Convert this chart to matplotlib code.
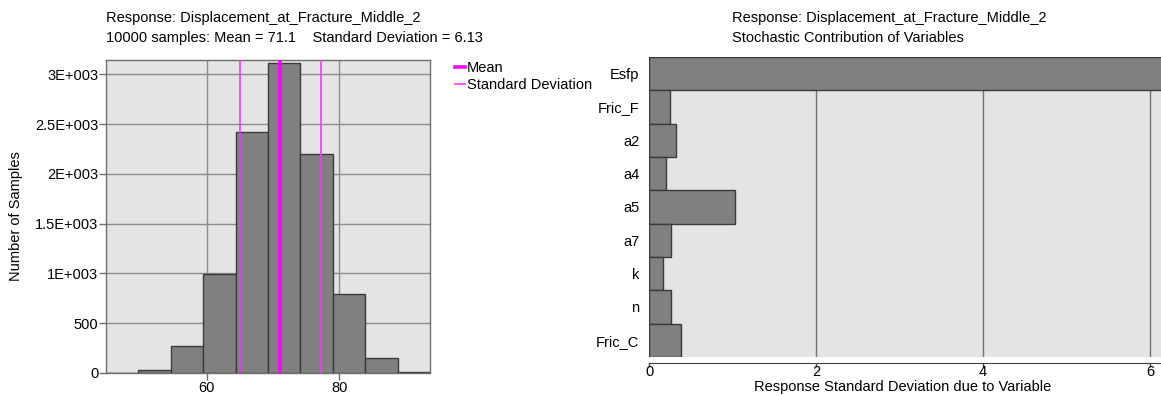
import matplotlib
matplotlib.use("Agg")
import matplotlib.pyplot as plt
from matplotlib.lines import Line2D

FS = 10.5
plt.rcParams['font.family'] = ['Liberation Sans', 'DejaVu Sans']
plt.rcParams['font.size'] = FS

# ---------------- data ----------------
bin_edges = [44.74, 49.64, 54.54, 59.44, 64.34, 69.24, 74.14, 79.04, 83.94, 88.84, 93.74]
bin_counts = [5, 35, 270, 995, 2425, 3115, 2200, 790, 155, 10]
mean_value = 71.1
std_value = 6.13
n_samples = 10000
response_name = "Displacement_at_Fracture_Middle_2"

hist_yticks = [0, 500, 1000, 1500, 2000, 2500, 3000]
hist_yticklabels = ["0", "500", "1E+003", "1.5E+003", "2E+003", "2.5E+003", "3E+003"]
hist_xticks = [60, 80]

variables = ["Esfp", "Fric_F", "a2", "a4", "a5", "a7", "k", "n", "Fric_C"]
contributions = [6.5, 0.25, 0.32, 0.20, 1.03, 0.26, 0.17, 0.26, 0.38]
contrib_xticks = [0, 2, 4, 6]

# ---------------- figure ----------------
W, H = 1161, 396
fig = plt.figure(figsize=(W / 100, H / 100), dpi=100)

def rect(x0, y0, x1, y1):
    return [x0 / W, 1 - y1 / H, (x1 - x0) / W, (y1 - y0) / H]

bg = '#e4e4e4'
bar_face = '#808080'
bar_edge = '#3a3a3a'
magenta = '#ff00ff'

# ---- left: histogram ----
ax1 = fig.add_axes(rect(106, 60, 430, 373))
ax1.set_facecolor(bg)
widths = [bin_edges[i + 1] - bin_edges[i] for i in range(len(bin_counts))]
ax1.bar(bin_edges[:-1], bin_counts, width=widths, align='edge',
        color=bar_face, edgecolor=bar_edge, linewidth=1.0, zorder=2)
ax1.set_xlim(bin_edges[0], bin_edges[-1])
ax1.set_ylim(0, 3145)
ax1.set_yticks(hist_yticks)
ax1.set_yticklabels(hist_yticklabels)
ax1.set_xticks(hist_xticks)
ax1.grid(True, color='#8c8c8c', linewidth=1.0, zorder=0)
ax1.set_axisbelow(True)
ax1.tick_params(direction='out', length=5, width=1, color='#6e6e6e', pad=0.5,
                labelsize=FS)
for s in ax1.spines.values():
    s.set_color('#6e6e6e')
    s.set_linewidth(1.0)
ax1.set_ylabel("Number of Samples", fontsize=FS)
ax1.yaxis.set_label_coords(-(106 - 16) / (430 - 106), 0.5)
ax1.yaxis.label.set_va('center')

ax1.axvline(mean_value, color=magenta, linewidth=2.6, zorder=3)
for v in (mean_value - std_value, mean_value + std_value):
    ax1.axvline(v, color='#ff33ff', linewidth=1.2, zorder=3)

handles = [Line2D([], [], color=magenta, linewidth=2.6),
           Line2D([], [], color='#ff33ff', linewidth=1.2)]
fig.legend(handles, ["Mean", "Standard Deviation"],
           loc='upper left', bbox_to_anchor=(455 / W, 1 - 61 / H),
           frameon=False, handlelength=0.7, handletextpad=0.1,
           labelspacing=0.2, borderaxespad=0, borderpad=0, fontsize=FS)

fig.text(106 / W, 1 - 18 / H, "Response: " + response_name,
         ha='left', va='center', fontsize=FS)
fig.text(106 / W, 1 - 38 / H,
         f"{n_samples} samples: Mean = {mean_value}    Standard Deviation = {std_value}",
         ha='left', va='center', fontsize=FS)

# ---- right: contributions ----
ax2 = fig.add_axes(rect(649, 57, 1161, 357))
ax2.set_facecolor(bg)
ypos = list(range(len(variables)))[::-1]
ax2.barh(ypos, contributions, height=1.0, color=bar_face,
         edgecolor=bar_edge, linewidth=1.0, zorder=2)
ax2.set_xlim(0, 6.13)
ax2.set_ylim(-0.5, len(variables) - 0.5)
ax2.set_yticks(ypos)
ax2.set_yticklabels(variables)
ax2.set_xticks(contrib_xticks)
ax2.grid(True, axis='x', color='#707070', linewidth=1.0, zorder=0)
ax2.set_axisbelow(True)
ax2.tick_params(axis='y', length=0, pad=7, labelsize=FS)
ax2.tick_params(axis='x', direction='out', length=3, width=1,
                color='#404040', pad=-1, labelsize=FS)
for k in ('top', 'right', 'left'):
    ax2.spines[k].set_visible(False)
ax2.spines['bottom'].set_position(('outward', 4))
ax2.spines['bottom'].set_color('#404040')
ax2.set_xlabel("Response Standard Deviation due to Variable", fontsize=FS)
ax2.xaxis.label.set_va('center')
ax2.xaxis.set_label_coords((903 - 649) / (1161 - 649), -(387 - 357) / 300)

fig.text(732 / W, 1 - 18 / H, "Response: " + response_name,
         ha='left', va='center', fontsize=FS)
fig.text(732 / W, 1 - 38 / H, "Stochastic Contribution of Variables",
         ha='left', va='center', fontsize=FS)

fig.savefig("out.png", dpi=100)
